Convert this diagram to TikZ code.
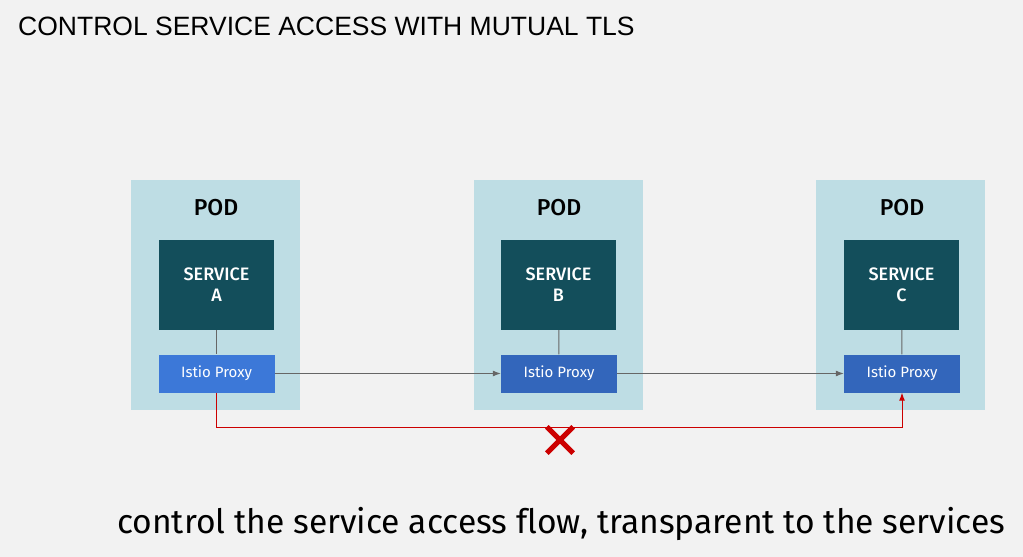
\documentclass[tikz,border=0pt]{standalone}
\usepackage{fontspec}
\setmainfont{Liberation Sans}
\newfontfamily\boxfont{Fira Sans}
\newfontfamily\boxfontmed{Fira Sans Medium}
\newfontfamily\capfont[Ligatures=NoCommon]{Fira Sans}
\usetikzlibrary{arrows.meta}
\definecolor{bgc}{HTML}{F2F2F2}
\definecolor{podc}{HTML}{BEDDE4}
\definecolor{svcc}{HTML}{134E5B}
\definecolor{proxya}{HTML}{3C78D8}
\definecolor{proxyb}{HTML}{3366BB}
\definecolor{linec}{HTML}{666666}
\definecolor{redc}{HTML}{CC0000}
\tikzset{
  podbox/.style={fill=podc, draw=none, minimum width=169pt, minimum height=230pt, inner sep=0pt},
  svcbox/.style={fill=svcc, draw=none, minimum width=115pt, minimum height=90pt, inner sep=0pt, text=white, font=\boxfontmed\fontsize{18}{21}\selectfont, align=center},
  proxybox/.style={draw=none, minimum width=116pt, minimum height=38pt, inner sep=0pt, text=white, font=\boxfont\fontsize{15}{17}\selectfont},
  podlabel/.style={font=\boxfontmed\fontsize{23}{26}\selectfont, text=black},
  conn/.style={draw=linec, line width=1pt},
  flow/.style={conn, -{Latex[length=8pt,width=6pt]}},
  block/.style={draw=redc, line width=1pt, -{Latex[length=8pt,width=6pt]}},
}
\begin{document}
\begin{tikzpicture}[x=1pt,y=-1pt]
\fill[bgc] (0,0) rectangle (1023,557);
\useasboundingbox (0,0) rectangle (1023,557);
\node[anchor=west, font=\fontsize{26.5}{30}\selectfont, inner sep=0pt] (title) at (18,26) {CONTROL SERVICE ACCESS WITH MUTUAL TLS};
% pods
\node[podbox] (podA) at (215.5,295) {};
\node[podbox] (podB) at (558.5,295) {};
\node[podbox] (podC) at (900.5,295) {};
\node[podlabel] (podlA) at (216,208) {POD};
\node[podlabel] (podlB) at (559,208) {POD};
\node[podlabel] (podlC) at (902,208) {POD};
\node[svcbox] (svcA) at (216.5,285) {SERVICE\\A};
\node[svcbox] (svcB) at (558.5,285) {SERVICE\\B};
\node[svcbox] (svcC) at (901.5,285) {SERVICE\\C};
\node[proxybox, fill=proxya] (pxA) at (216.5,373.5) {Istio Proxy};
\node[proxybox, fill=proxyb] (pxB) at (559,373.5) {Istio Proxy};
\node[proxybox, fill=proxyb] (pxC) at (902,373.5) {Istio Proxy};
\draw[conn] (svcA) -- (pxA);
\draw[conn] (svcB) -- (pxB);
\draw[conn] (svcC) -- (pxC);
\draw[flow] (pxA) -- (pxB);
\draw[flow] (pxB) -- (pxC);
\coordinate (cornerA) at (216.5,427);
\coordinate (cornerC) at (902,427);
\draw[block] (pxA.south) -- (cornerA) -- (cornerC) -- (pxC.south);
\node[inner sep=0pt, minimum size=26pt] (xmark) at (560,440) {};
\draw[redc, line width=5pt] (xmark.north west) -- (xmark.south east) (xmark.north east) -- (xmark.south west);
\node[anchor=west, font=\capfont\fontsize{33.6}{38}\selectfont, inner sep=0pt] (caption) at (117,524) {control the service access flow, transparent to the services};
\end{tikzpicture}
\end{document}
